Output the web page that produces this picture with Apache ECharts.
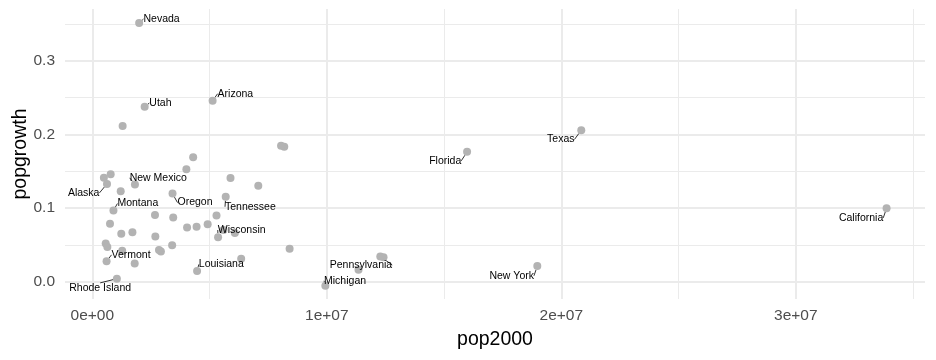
<!DOCTYPE html>
<html>
<head>
<meta charset="utf-8">
<script src="https://cdn.jsdelivr.net/npm/echarts@6/dist/echarts.min.js"></script>
<style>
html,body{margin:0;padding:0;background:#fff;}
#chart{width:936px;height:360px;}
</style>
</head>
<body>
<div id="chart"></div>
<script>
// ---- data ----
const states = ["Alabama","Alaska","Arizona","Arkansas","California","Colorado","Connecticut","Delaware","District of Columbia","Florida","Georgia","Hawaii","Idaho","Illinois","Indiana","Iowa","Kansas","Kentucky","Louisiana","Maine","Maryland","Massachusetts","Michigan","Minnesota","Mississippi","Missouri","Montana","Nebraska","Nevada","New Hampshire","New Jersey","New Mexico","New York","North Carolina","North Dakota","Ohio","Oklahoma","Oregon","Pennsylvania","Rhode Island","South Carolina","South Dakota","Tennessee","Texas","Utah","Vermont","Virginia","Washington","West Virginia","Wisconsin","Wyoming"];
const pop2000 = [4447100,626932,5130632,2673400,33871648,4301261,3405565,783600,572059,15982378,8186453,1211537,1293953,12419293,6080485,2926324,2688418,4041769,4468976,1274923,5296486,6349097,9938444,4919479,2844658,5595211,902195,1711263,1998257,1235786,8414350,1819046,18976457,8049313,642200,11353140,3450654,3421399,12281054,1048319,4012012,754844,5689283,20851820,2233169,608827,7078515,5894121,1808344,5363675,493782];
const popgrowth = [0.0748,0.1329,0.2459,0.0907,0.0999,0.1692,0.0495,0.1459,0.0519,0.1764,0.1834,0.1228,0.2115,0.0331,0.0663,0.0410,0.0613,0.0736,0.0144,0.0419,0.0901,0.0313,-0.0055,0.0781,0.0431,0.0704,0.0967,0.0672,0.3514,0.0653,0.0449,0.1320,0.0212,0.1846,0.0473,0.0162,0.0871,0.1197,0.0343,0.0041,0.1529,0.0786,0.1154,0.2059,0.2377,0.0278,0.1303,0.1409,0.0247,0.0603,0.1414];
const labeledStates = ["Nevada","Arizona","Utah","Texas","Florida","California","New York","Michigan","Pennsylvania","Louisiana","Wisconsin","Tennessee","Oregon","Montana","New Mexico","Alaska","Vermont","Rhode Island"];
const xMajorTicks = [0, 1e7, 2e7, 3e7];
const xTickLabels = ["0e+00", "1e+07", "2e+07", "3e+07"];
const xMinorTicks = [5e6, 1.5e7, 2.5e7, 3.5e7];
const yMajorTicks = [0, 0.1, 0.2, 0.3];
const yTickLabels = ["0.0", "0.1", "0.2", "0.3"];
const yMinorTicks = [0.05, 0.15, 0.25, 0.35];

// ---- label offsets (style: text centre relative to point, px) ----
const labelOffsets = {
  "Nevada":[22.4,-4], "Arizona":[22.8,-7], "Utah":[15.8,-3.7], "New Mexico":[23.3,-6.7],
  "Alaska":[-23.3,9], "Montana":[24.4,-7], "Oregon":[22.5,9], "Tennessee":[24.7,10],
  "Wisconsin":[23.6,-7.3], "Louisiana":[24.2,-6.7], "Vermont":[24.5,-6.4], "Rhode Island":[-16.7,9.7],
  "Pennsylvania":[-19.3,8.5], "Michigan":[19.7,-5], "New York":[-25.6,9.7], "Florida":[-21.9,9],
  "Texas":[-20.5,9.3], "California":[-25.5,9.7]
};

const FONT = "'Liberation Sans', Arial, sans-serif";
const seriesData = states.map((s, i) => ({
  name: s,
  value: [pop2000[i], popgrowth[i]],
  label: { show: labeledStates.indexOf(s) >= 0 }
}));

const xFmt = v => { const k = xMajorTicks.indexOf(v); return k >= 0 ? xTickLabels[k] : ''; };
const yFmt = v => { let k = -1; yMajorTicks.forEach((t, j) => { if (Math.abs(t - v) < 1e-9) k = j; }); return k >= 0 ? yTickLabels[k] : ''; };

const chart = echarts.init(document.getElementById('chart'), null, { renderer: 'canvas' });
chart.setOption({
  animation: false,
  backgroundColor: '#ffffff',
  grid: { left: 65, right: 11, top: 9, bottom: 61, containLabel: false, outerBoundsMode: 'none' },
  xAxis: [{
    type: 'value', min: -1.164e6, max: 3.551e7,
    axisLine: { show: false },
    axisTick: { show: false, customValues: xMajorTicks },
    axisLabel: { customValues: xMajorTicks, formatter: xFmt, color: '#4D4D4D', fontSize: 15.5, fontFamily: FONT, margin: 9 },
    splitLine: { show: true, lineStyle: { color: '#EBEBEB', width: 2 } },
    name: 'pop2000', nameLocation: 'middle', nameGap: 31, nameMoveOverlap: false,
    nameTextStyle: { color: '#000', fontSize: 19.5, fontFamily: FONT }
  }, {
    type: 'value', position: 'bottom', min: -1.164e6, max: 3.551e7,
    axisLine: { show: false },
    axisTick: { show: false, customValues: xMinorTicks },
    axisLabel: { show: false, customValues: xMinorTicks },
    splitLine: { show: true, lineStyle: { color: '#EBEBEB', width: 1 } }
  }],
  yAxis: [{
    type: 'value', min: -0.0235, max: 0.3705,
    axisLine: { show: false },
    axisTick: { show: false, customValues: yMajorTicks },
    axisLabel: { customValues: yMajorTicks, formatter: yFmt, color: '#4D4D4D', fontSize: 15.5, fontFamily: FONT, margin: 10 },
    splitLine: { show: true, lineStyle: { color: '#EBEBEB', width: 2 } },
    name: 'popgrowth', nameLocation: 'middle', nameGap: 34, nameMoveOverlap: false,
    nameTextStyle: { color: '#000', fontSize: 19.5, fontFamily: FONT }
  }, {
    type: 'value', position: 'left', min: -0.0235, max: 0.3705,
    axisLine: { show: false },
    axisTick: { show: false, customValues: yMinorTicks },
    axisLabel: { show: false, customValues: yMinorTicks },
    splitLine: { show: true, lineStyle: { color: '#EBEBEB', width: 1 } }
  }],
  series: [{
    type: 'scatter',
    xAxisIndex: 0, yAxisIndex: 0,
    symbol: 'circle', symbolSize: 8,
    itemStyle: { color: '#B3B3B3', opacity: 1 },
    label: { show: false, position: 'inside', color: '#000', fontSize: 10.5, fontFamily: FONT, formatter: p => p.name },
    labelLine: { show: true, lineStyle: { color: '#000', width: 0.8 } },
    labelLayout: function (params) {
      const o = labelOffsets[seriesData[params.dataIndex].name];
      return o ? { dx: o[0], dy: o[1] } : {};
    },
    emphasis: { disabled: true },
    data: seriesData
  }]
});
</script>
</body>
</html>
